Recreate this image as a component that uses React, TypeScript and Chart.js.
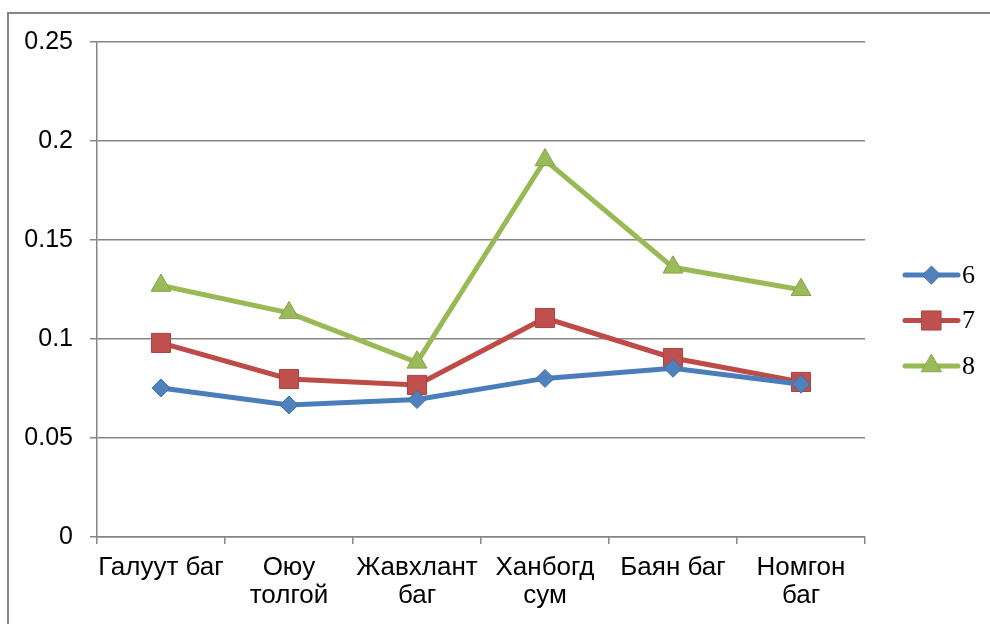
import React, { useEffect, useRef } from "react";
import { Chart, registerables } from "chart.js";

Chart.register(...registerables);

const categories: (string | string[])[] = [
  "Галуут баг",
  ["Оюу", "толгой"],
  ["Жавхлант", "баг"],
  ["Ханбогд", "сум"],
  "Баян баг",
  ["Номгон", "баг"],
];

const seriesNames = ["6", "7", "8"];
const series6 = [0.0753, 0.0667, 0.0694, 0.0801, 0.0852, 0.0772];
const series7 = [0.098, 0.0798, 0.0768, 0.1106, 0.0904, 0.0783];
const series8 = [0.127, 0.1132, 0.0882, 0.1904, 0.1362, 0.1249];

const yTicks = [0, 0.05, 0.1, 0.15, 0.2, 0.25];
const yTickLabels = ["0", "0.05", "0.1", "0.15", "0.2", "0.25"];

const lineColors = ["#4A7EBB", "#BE4B48", "#98B954"];
const fillColors = ["#4F81BD", "#C0504D", "#9BBB59"];
const edgeColors = ["#3F6DA8", "#A94441", "#86A34A"];
const pointStyles = ["rectRot", "rect", "triangle"];
const pointRadii = [9, 13.5, 11.5];

function drawMarker(ctx: CanvasRenderingContext2D, style: string, x: number, y: number, r: number) {
  ctx.beginPath();
  if (style === "rectRot") {
    ctx.moveTo(x - r, y);
    ctx.lineTo(x, y - r);
    ctx.lineTo(x + r, y);
    ctx.lineTo(x, y + r);
  } else if (style === "rect") {
    const s = Math.SQRT1_2 * r;
    ctx.rect(x - s, y - s, 2 * s, 2 * s);
  } else {
    ctx.moveTo(x, y - r);
    ctx.lineTo(x + Math.sin((2 * Math.PI) / 3) * r, y + r / 2);
    ctx.lineTo(x - Math.sin((2 * Math.PI) / 3) * r, y + r / 2);
  }
  ctx.closePath();
  ctx.fill();
  ctx.stroke();
}

const legendPlugin = {
  id: "excelLegend",
  afterDraw(chart: any) {
    const ctx: CanvasRenderingContext2D = chart.ctx;
    const x0 = 905;
    const len = 53;
    const yStart = 275;
    const gap = 45.5;
    ctx.save();
    chart.data.datasets.forEach((ds: any, i: number) => {
      const y = yStart + i * gap;
      ctx.strokeStyle = ds.borderColor;
      ctx.lineWidth = 5;
      ctx.lineCap = "round";
      ctx.beginPath();
      ctx.moveTo(x0, y);
      ctx.lineTo(x0 + len, y);
      ctx.stroke();
      ctx.fillStyle = ds.pointBackgroundColor;
      ctx.strokeStyle = ds.pointBorderColor;
      ctx.lineWidth = 1;
      drawMarker(ctx, ds.pointStyle, x0 + len / 2, y, ds.pointRadius);
      ctx.fillStyle = "#000";
      ctx.font = "26px 'Liberation Serif', 'Times New Roman', serif";
      ctx.textBaseline = "middle";
      ctx.textAlign = "left";
      ctx.fillText(ds.label, x0 + len + 4, y + 1);
    });
    ctx.restore();
  },
};

export default function App() {
  const ref = useRef<HTMLCanvasElement>(null);

  useEffect(() => {
    if (!ref.current) return;
    const all = [series6, series7, series8];
    const chart = new Chart(ref.current, {
      type: "line",
      data: {
        labels: categories as any,
        datasets: all.map((d, i) => ({
          label: seriesNames[i],
          data: d,
          borderColor: lineColors[i],
          backgroundColor: fillColors[i],
          borderWidth: 5,
          pointStyle: pointStyles[i] as any,
          pointRadius: pointRadii[i],
          pointBackgroundColor: fillColors[i],
          pointBorderColor: edgeColors[i],
          pointBorderWidth: 1,
          tension: 0,
          fill: false,
        })),
      },
      options: {
        animation: false,
        responsive: false,
        devicePixelRatio: 1,
        layout: { padding: { top: 42, right: 125, bottom: 0, left: 0 } },
        plugins: { legend: { display: false }, tooltip: { enabled: false } },
        scales: {
          x: {
            offset: true,
            grid: {
              offset: true,
              drawOnChartArea: false,
              drawTicks: true,
              tickLength: 7,
              color: "#868686",
              lineWidth: 1.5,
            },
            border: { display: true, color: "#868686", width: 1.5 },
            ticks: {
              color: "#000",
              padding: 10,
              maxRotation: 0,
              autoSkip: false,
              font: { family: "'Liberation Sans', Arial, sans-serif", size: 26, lineHeight: 1.08 },
            },
            afterFit: (s: any) => {
              s.height = 87;
            },
          },
          y: {
            min: 0,
            max: 0.25,
            afterBuildTicks: (s: any) => {
              s.ticks = yTicks.map((v) => ({ value: v }));
            },
            grid: {
              drawTicks: true,
              tickLength: 7,
              color: "#868686",
              lineWidth: 1.5,
            },
            border: { display: true, color: "#868686", width: 1.5 },
            ticks: {
              color: "#000",
              padding: 17,
              font: { family: "'Liberation Sans', Arial, sans-serif", size: 25 },
              callback: (v: any) => {
                const idx = yTicks.findIndex((t) => Math.abs(t - Number(v)) < 1e-9);
                return idx >= 0 ? yTickLabels[idx] : "";
              },
            },
            afterFit: (s: any) => {
              s.width = 97;
            },
          },
        },
      },
      plugins: [legendPlugin],
    });
    return () => chart.destroy();
  }, []);

  return (
    <div style={{ position: "absolute", left: 0, top: 0, width: 990, height: 624, overflow: "hidden", background: "#fff" }}>
      <div
        style={{
          position: "absolute",
          left: 7,
          top: 12,
          width: 1000,
          height: 700,
          borderLeft: "2px solid #878787",
          borderTop: "2px solid #878787",
        }}
      />
      <canvas ref={ref} width={990} height={624} style={{ position: "absolute", left: 0, top: 0, width: 990, height: 624 }} />
    </div>
  );
}
